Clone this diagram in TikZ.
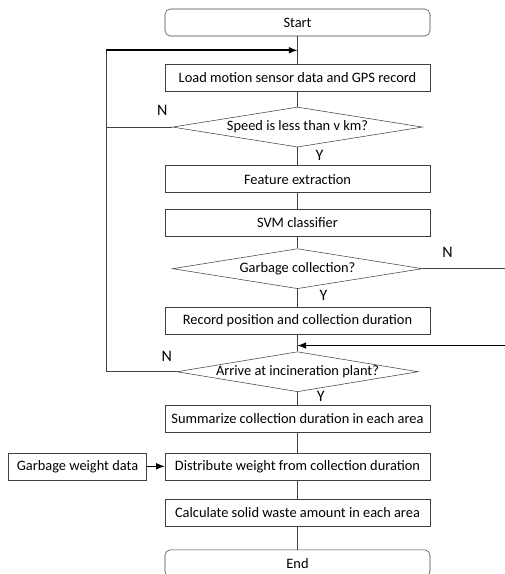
\documentclass[tikz,border=0pt]{standalone}
\usepackage{fontspec}
\setmainfont{Carlito}
\usetikzlibrary{positioning,arrows,calc,shapes.geometric}

\begin{document}
\begin{tikzpicture}[
    x=0.75pt, y=-0.75pt,
    font=\fontsize{10.8}{12}\selectfont,
    procnode/.style={rectangle, draw=black!75, minimum width=198.75pt, minimum height=20.25pt, inner sep=1pt},
    termnode/.style={procnode, rounded corners=4pt},
    decnode/.style={diamond, draw=black!75, aspect=7.5, inner sep=0pt, text height=6pt, text depth=1pt, minimum width=187.5pt, minimum height=30pt},
    flow/.style={draw=black!75},
    yn/.style={font=\fontsize{12}{13}\selectfont},
    feed/.style={->, >=latex, draw=black, line width=1.2pt}
    ]
        \useasboundingbox (0,0) rectangle (505,574);

        %Nodes
        \node[termnode] (start) at (297.5,22.5) {Start};
        \node[procnode]
            (load)  [below=21pt of start]   {Load motion sensor data and GPS record};
        \node[decnode]
            (speed) [below=11.25pt of load]  {Speed is less than v km?};
        \node[procnode]
            (feat)  [below=13.5pt of speed]  {Feature extraction};
        \node[procnode]
            (svm)   [below=12pt of feat]     {SVM classifier};
        \node[decnode]
            (garb)  [below=9pt of svm]       {Garbage collection?};
        \node[procnode]
            (rec)   [below=13.5pt of garb]   {Record position and collection duration};
        \node[decnode, minimum width=181pt]
            (arr)   [below=12.75pt of rec]   {Arrive at incineration plant?};
        \node[procnode]
            (summ)  [below=9.75pt of arr]    {Summarize collection duration in each area};
        \node[procnode]
            (dist)  [below=15pt of summ]     {Distribute weight from collection duration};
        \node[procnode, minimum width=103.5pt]
            (wgt)   [left=13.5pt of dist]    {Garbage weight data};
        \node[procnode]
            (calc)  [below=14.25pt of dist]  {Calculate solid waste amount in each area};
        \node[termnode]
            (end)   [below=17.25pt of calc]  {End};

        %Junctions
        \coordinate (j1) at ($(start.south)!0.5!(load.north)$);
        \coordinate (j2) at ($(rec.south)!0.65!(arr.north)$);
        \coordinate (lx) at (106,0);
        \coordinate (rx) at (505,0);

        %Lines
        \draw[flow] (start) -- (load);
        \draw[flow] (load) -- (speed);
        \draw[flow] (speed) -- node[yn, right=10pt, pos=0.45] {Y} (feat);
        \draw[flow] (feat) -- (svm);
        \draw[flow] (svm) -- (garb);
        \draw[flow] (garb) -- node[yn, right=13pt, pos=0.35] {Y} (rec);
        \draw[flow] (rec) -- (arr);
        \draw[flow] (arr) -- node[yn, right=11pt, pos=0.3] {Y} (summ);
        \draw[flow] (summ) -- (dist);
        \draw[flow] (dist) -- (calc);
        \draw[flow] (calc) -- (end);

        %Loops
        \draw[flow] (speed.west) -- node[yn, above left=5pt and 0pt, pos=0.0] {N} (speed.west -| lx) -- (lx |- j1);
        \draw[flow] (arr.west) -- node[yn, above left=4pt and 0pt, pos=0.0] {N} (arr.west -| lx) -- (speed.west -| lx);
        \draw[feed] (lx |- j1) -- (j1);
        \draw[flow] (garb.east) -- node[yn, above=5pt, pos=0.3] {N} (garb.east -| rx);
        \draw[feed] (rx |- j2) -- (j2);
        \draw[feed] (wgt) -- (dist);
    \end{tikzpicture}
\end{document}
